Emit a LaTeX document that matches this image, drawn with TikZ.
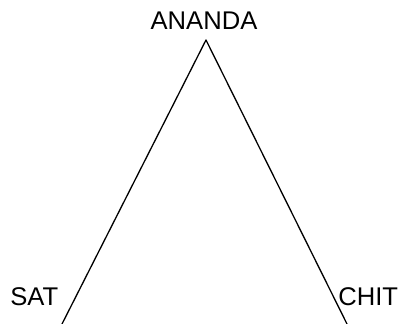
\documentclass[tikz,border=0pt]{standalone}
\usepackage{fontspec}
\setmainfont{Liberation Sans}
\usetikzlibrary{positioning}

\begin{document}
\begin{tikzpicture}[
    x=0.5pt, y=-0.5pt,
    line cap=round,
    line join=round,
    font=\fontsize{12.8}{15}\selectfont,
    label/.style={inner sep=0pt},
    side/.style={draw=black, line width=0.65pt}
]

\useasboundingbox (0,0) rectangle (398,324);

%-----------------------
% 1) CORNERS
%-----------------------
\coordinate (top)   at (206,40);
\coordinate (left)  at (62,324);
\coordinate (right) at (347,324);

%-----------------------
% 2) THE TWO SIDES
%-----------------------
\draw[side] (left) -- (top) -- (right);

%-----------------------
% 3) LABELS
%-----------------------
\node[label, anchor=base]      (ananda) at (204,29.5) {ANANDA};
\node[label, anchor=base west] (sat)    at (10,305.5) {SAT};
\node[label, anchor=base west] (chit)   at (338,305.5) {CHIT};

\end{tikzpicture}
\end{document}
